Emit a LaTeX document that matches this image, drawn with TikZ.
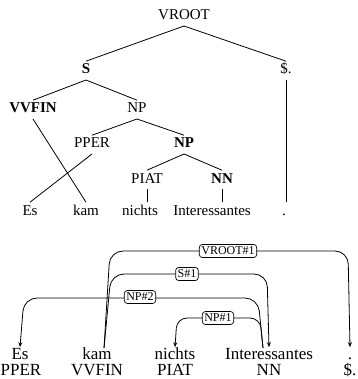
\documentclass[tikz,border=0pt]{standalone}
\usepackage{fontspec}
\setmainfont{Liberation Serif}
\usetikzlibrary{calc,arrows.meta}
\tikzset{
  tnode/.style={font=\fontsize{15}{18}\selectfont, inner sep=0pt, outer sep=6pt, text height=0.68em, text depth=0pt, anchor=base},
  bnode/.style={font=\fontsize{17}{20}\selectfont, inner sep=0pt, outer sep=5pt, text height=0.68em, text depth=0pt, anchor=base},
  edge/.style={line width=0.8pt},
  arc/.style={line width=0.8pt, rounded corners=13pt, -{Stealth[length=5pt,width=4pt]}},
  lab/.style={draw, line width=0.7pt, rounded corners=3pt, fill=white, font=\fontsize{12}{14}\selectfont, inner xsep=2pt, inner ysep=2.5pt}
}
\begin{document}
\begin{tikzpicture}[x=1pt,y=-1pt]
\useasboundingbox (0,0) rectangle (357,379);
% top tree
\node[tnode] (vroot) at (184,20) {VROOT};
\node[tnode] (s) at (86,74) {\textbf{S}};
\node[tnode] (dollar) at (286,74) {\$.};
\node[tnode] (vvfin) at (33,113) {\textbf{VVFIN}};
\node[tnode] (npa) at (137,113) {NP};
\node[tnode] (pper) at (92,148) {PPER};
\node[tnode] (npb) at (184,148) {\textbf{NP}};
\node[tnode] (piat) at (147,183) {PIAT};
\node[tnode] (nn) at (222,183) {\textbf{NN}};
\node[tnode] (es) at (30,215) {Es};
\node[tnode] (kam) at (86,215) {kam};
\node[tnode] (nichts) at (140,215) {nichts};
\node[tnode] (inter) at (212,215) {Interessantes};
\node[tnode] (dot) at (284,215) {.};
\draw[edge] (vroot.south) -- (s.north);
\draw[edge] (vroot.south) -- (dollar.north);
\draw[edge] (s.south) -- (vvfin.north);
\draw[edge] (s.south) -- (npa.north);
\draw[edge] (npa.south) -- (pper.north);
\draw[edge] (npa.south) -- (npb.north);
\draw[edge] (npb.south) -- (piat.north);
\draw[edge] (npb.south) -- (nn.north);
\draw[edge] (vvfin.south) -- (kam.north);
\draw[edge] (pper.south) -- (es.north);
\draw[edge] (piat.south) -- (piat.south |- nichts.north);
\draw[edge] (nn.south) -- (nn.south |- inter.north);
\draw[edge] (dollar.south) -- (dollar.south |- inter.north);
% bottom
\node[bnode] (esb) at (20,359) {Es};
\node[bnode] (kamb) at (97,359) {kam};
\node[bnode] (nichtsb) at (175,359) {nichts};
\node[bnode] (interb) at (269,359) {Interessantes};
\node[bnode] (dotb) at (350,359) {.};
\node[bnode] (pperb) at (21,375) {PPER};
\node[bnode] (vvfinb) at (97,375) {VVFIN};
\node[bnode] (piatb) at (175,375) {PIAT};
\node[bnode] (nnb) at (269,375) {NN};
\node[bnode] (dollarb) at (350,375) {\$.};
\coordinate (kstart) at ($(kamb.north)+(7,1)$);
\coordinate (istart) at ($(interb.north)+(-6,1)$);
\draw[arc] (kstart) -- (110,251) -- (348,251) -- (dotb.north);
\draw[arc] (kstart) -- (111,274) -- (267,274) -- (interb.north);
\draw[arc] (istart) -- (258,298) -- (24,298) -- (esb.north);
\draw[arc, rounded corners=10pt] (istart) -- (260,318) -- (177,318) -- (nichtsb.north);
\node[lab] (l1) at (228,251) {VROOT\#1};
\node[lab] (l2) at (187,274) {S\#1};
\node[lab] (l3) at (140,297) {NP\#2};
\node[lab] (l4) at (218,318) {NP\#1};
\end{tikzpicture}
\end{document}
